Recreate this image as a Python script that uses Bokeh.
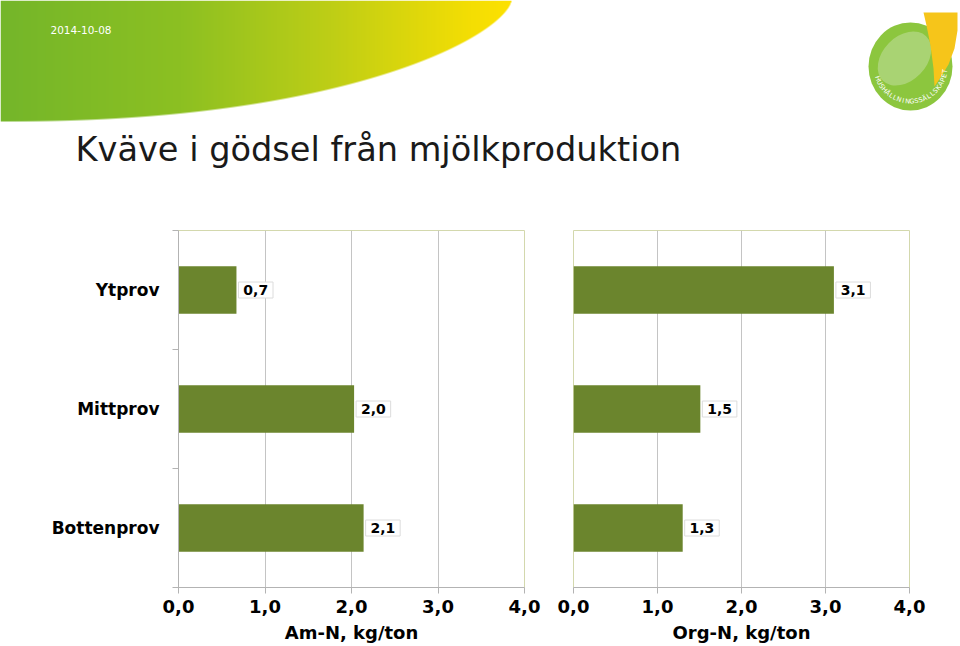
import numpy as np
from bokeh.plotting import figure
from bokeh.models import Range1d, FixedTicker, ColumnDataSource, LabelSet
from bokeh.layouts import column, row
from bokeh.embed import file_html
from bokeh.resources import INLINE
from bokeh.core.properties import value

# ---------------- data ----------------
categories = ["Ytprov", "Mittprov", "Bottenprov"]
am_n = [0.67, 2.03, 2.14]
org_n = [3.1, 1.51, 1.3]
tick_values = [0, 1, 2, 3, 4]
tick_labels = ["0,0", "1,0", "2,0", "3,0", "4,0"]
x_titles = ["Am-N, kg/ton", "Org-N, kg/ton"]
date_text = "2014-10-08"
title_text = "Kväve i gödsel från mjölkproduktion"
logo_text = "HUSHÅLLNINGSSÄLLSKAPET"

# ---------------- styles ----------------
W, H = 960, 646
HEAD_H = 215
FONT = "DejaVu Sans"
BAR = "#6b852d"
GRID = "#c4c4c4"
FRAME = "#d3d8ad"
AXIS = "#b3b3b3"
NBSP = "\u00a0"

# ---------------- header (slide decoration) ----------------
head = figure(width=W, height=HEAD_H, x_range=Range1d(0, W), y_range=Range1d(0, HEAD_H),
              x_axis_location=None, y_axis_location=None, toolbar_location=None,
              output_backend="svg", min_border=0, outline_line_color=None)
head.grid.visible = False


def hy(py):
    return HEAD_H - py


# green-to-yellow swoosh as an RGBA image (smooth edge)
SW, SH = 520, 125
xs = np.arange(SW) + 0.5
EX, EY = 511.0, 121.0
t = np.clip(xs / EX, 0, 1)
bound = EY * np.clip(1 - t ** 2.2, 0, 1) ** 0.65
rows_ = np.arange(SH)
page_y = SH - (rows_ + 0.5)
alpha = np.clip(bound[None, :] - page_y[:, None] + 0.5, 0, 1)
stop_x = [0, 180, 330, 470, 520]
stop_c = np.array([[116, 182, 42], [140, 192, 34], [190, 206, 22],
                   [244, 222, 4], [255, 226, 0]], dtype=float)
img = np.zeros((SH, SW), dtype=np.uint32)
view = img.view(dtype=np.uint8).reshape((SH, SW, 4))
for k in range(3):
    ch = np.interp(xs, stop_x, stop_c[:, k])
    view[..., k] = np.broadcast_to(ch[None, :], (SH, SW)).astype(np.uint8)
view[..., 3] = (alpha * 255).astype(np.uint8)
head.image_rgba(image=[img], x=0, y=HEAD_H - SH, dw=SW, dh=SH)

head.text(x=[50], y=[hy(29)], text=[date_text], text_color="white",
          text_font=value(FONT), text_font_size="10.5px", text_baseline="middle")
head.text(x=[75], y=[hy(149)], text=[title_text], text_color="#1a1a1a",
          text_font=value(FONT), text_font_size="33.6px", text_baseline="alphabetic")

# logo
cx, cy = 910, 66
head.ellipse(x=[cx], y=[hy(cy)], width=84, height=88, fill_color="#8cc63e", line_color=None)
head.ellipse(x=[cx - 6], y=[hy(cy - 8)], width=62, height=44, angle=0.8,
             fill_color="#a9d373", line_color=None)
leaf_x = [923, 957, 957, 954, 948, 940, 934, 933, 930, 926]
leaf_y = [12, 12, 30, 48, 64, 77, 86, 68, 45, 25]
head.patch(x=leaf_x, y=[hy(v) for v in leaf_y], fill_color="#f6c51a", line_color=None)
R = 35
angs = np.linspace(np.deg2rad(-160), np.deg2rad(-8), len(logo_text))
head.text(x=cx + R * np.cos(angs), y=hy(cy) + R * np.sin(angs), text=list(logo_text),
          angle=angs + np.pi / 2, text_color="white", text_font=value(FONT),
          text_font_size="6.5px", text_align="center", text_baseline="middle")

# ---------------- charts ----------------
ypos = [2.5, 1.5, 0.5]


def make_chart(vals, xtitle, show_y, width, bl, br):
    p = figure(width=width, height=H - HEAD_H, x_range=Range1d(0, 4), y_range=Range1d(0, 3),
               toolbar_location=None, output_backend="svg",
               min_border_left=bl, min_border_right=br, min_border_top=15, min_border_bottom=59,
               outline_line_color=FRAME, y_axis_location="left" if show_y else None)
    src = ColumnDataSource(dict(y=ypos, v=vals,
                                lab=[NBSP + f"{v:.1f}".replace(".", ",") + NBSP for v in vals]))
    p.hbar(y="y", left=0, right="v", height=0.4, fill_color=BAR, line_color=None, source=src)
    labels = LabelSet(x="v", y="y", text="lab", source=src, x_offset=2,
                      text_baseline="middle", text_font=value(FONT), text_font_style="bold",
                      text_font_size="14px", text_color="black", text_line_height=1.45,
                      background_fill_color="white", border_line_color="#dcdcdc")
    p.add_layout(labels)

    xa = p.xaxis[0]
    xa.ticker = FixedTicker(ticks=tick_values)
    xa.major_label_overrides = {t: l for t, l in zip(tick_values, tick_labels)}
    xa.axis_line_color = AXIS
    xa.major_tick_line_color = AXIS
    xa.major_tick_out = 6
    xa.major_tick_in = 0
    xa.minor_tick_line_color = None
    xa.major_label_text_font = FONT
    xa.major_label_text_font_style = "bold"
    xa.major_label_text_font_size = "18px"
    xa.major_label_text_color = "black"
    xa.major_label_standoff = 6
    xa.axis_label = xtitle
    xa.axis_label_text_font = FONT
    xa.axis_label_text_font_style = "bold"
    xa.axis_label_text_font_size = "18px"
    xa.axis_label_text_color = "black"
    xa.axis_label_standoff = 6

    p.xgrid.ticker = FixedTicker(ticks=[1, 2, 3])
    p.xgrid.grid_line_color = GRID
    p.ygrid.grid_line_color = None

    if show_y:
        ya = p.yaxis[0]
        ya.ticker = FixedTicker(ticks=ypos, minor_ticks=[0, 1, 2, 3])
        ya.major_label_overrides = {y: c for y, c in zip(ypos, categories)}
        ya.axis_line_color = AXIS
        ya.major_tick_line_color = None
        ya.major_tick_out = 0
        ya.major_tick_in = 0
        ya.minor_tick_line_color = AXIS
        ya.minor_tick_out = 6
        ya.minor_tick_in = 0
        ya.major_label_text_font = FONT
        ya.major_label_text_font_style = "bold"
        ya.major_label_text_font_size = "17px"
        ya.major_label_text_color = "black"
        ya.major_label_standoff = 13
    return p


left = make_chart(am_n, x_titles[0], True, 548, 178, 24)
right = make_chart(org_n, x_titles[1], False, 412, 25, 51)

layout = column(head, row(left, right, spacing=0), spacing=0)
open("out.html", "w").write(file_html(layout, INLINE, title=title_text))
